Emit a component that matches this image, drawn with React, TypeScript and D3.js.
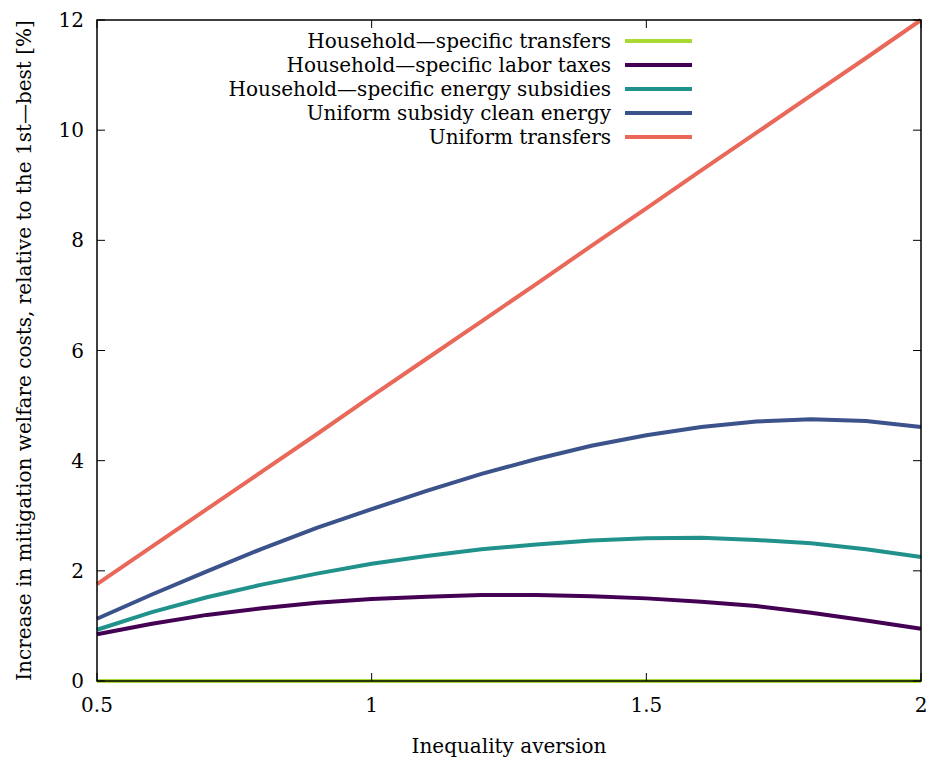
import * as d3 from 'd3';

const aversion = [0.5, 0.6, 0.7, 0.8, 0.9, 1.0, 1.1, 1.2, 1.3, 1.4, 1.5, 1.6, 1.7, 1.8, 1.9, 2.0];

const hhTransfers = [0, 0, 0, 0, 0, 0, 0, 0, 0, 0, 0, 0, 0, 0, 0, 0];
const hhLaborTaxes = [0.85, 1.04, 1.2, 1.32, 1.42, 1.49, 1.53, 1.56, 1.56, 1.54, 1.5, 1.44, 1.36, 1.24, 1.1, 0.95];
const hhEnergySubsidies = [0.93, 1.25, 1.52, 1.75, 1.95, 2.13, 2.27, 2.39, 2.48, 2.55, 2.59, 2.6, 2.56, 2.5, 2.39, 2.25];
const uniformSubsidyClean = [1.13, 1.57, 1.99, 2.4, 2.78, 3.12, 3.45, 3.76, 4.03, 4.27, 4.46, 4.61, 4.71, 4.75, 4.72, 4.61];
const uniformTransfers = [1.76, 2.44, 3.12, 3.8, 4.48, 5.17, 5.85, 6.53, 7.21, 7.9, 8.58, 9.27, 9.95, 10.63, 11.31, 12.0];

const seriesNames = [
  'Household\u2014specific transfers',
  'Household\u2014specific labor taxes',
  'Household\u2014specific energy subsidies',
  'Uniform subsidy clean energy',
  'Uniform transfers',
];
const seriesColors = ['#a8d932', '#440154', '#21918c', '#3b528b', '#e9685a'];

const xTicks = [0.5, 1, 1.5, 2];
const yTicks = [0, 2, 4, 6, 8, 10, 12];

const width = 930;
const height = 757;
const margin = { left: 97, right: 9, top: 20, bottom: 76 };
// only DejaVu Serif renders as a serif face here
const font = 'DejaVu Serif';
const fontSize = 20;

export default function App() {
  const x = d3.scaleLinear().domain([0.5, 2]).range([margin.left, width - margin.right]);
  const y = d3.scaleLinear().domain([0, 12]).range([height - margin.bottom, margin.top]);

  const allSeries = [hhTransfers, hhLaborTaxes, hhEnergySubsidies, uniformSubsidyClean, uniformTransfers];
  const line = d3
    .line<number>()
    .x((_, i) => x(aversion[i]))
    .y((d) => y(d));

  const x0 = x.range()[0];
  const x1 = x.range()[1];
  const y0 = y.range()[0];
  const y1 = y.range()[1];
  const tick = 8;

  return (
    <svg
      width={width}
      height={height}
      style={{ position: 'absolute', left: 0, top: 0, background: '#fff' }}
      fontFamily={font}
      fontSize={fontSize}
    >
      {allSeries.map((s, i) => (
        <path key={i} d={line(s) ?? ''} fill="none" stroke={seriesColors[i]} strokeWidth={4} />
      ))}

      <rect x={x0} y={y1} width={x1 - x0} height={y0 - y1} fill="none" stroke="#000" strokeWidth={1.5} />

      {xTicks.map((t) => (
        <g key={'x' + t}>
          <line x1={x(t)} x2={x(t)} y1={y0} y2={y0 - tick} stroke="#000" strokeWidth={1} />
          <line x1={x(t)} x2={x(t)} y1={y1} y2={y1 + tick} stroke="#000" strokeWidth={1} />
          <text x={x(t)} y={y0 + 31} textAnchor="middle">
            {t}
          </text>
        </g>
      ))}

      {yTicks.map((t) => (
        <g key={'y' + t}>
          <line x1={x0} x2={x0 + tick} y1={y(t)} y2={y(t)} stroke="#000" strokeWidth={1} />
          <line x1={x1} x2={x1 - tick} y1={y(t)} y2={y(t)} stroke="#000" strokeWidth={1} />
          <text x={x0 - 13} y={y(t) + 7} textAnchor="end">
            {t}
          </text>
        </g>
      ))}

      <text x={(x0 + x1) / 2} y={753} textAnchor="middle">
        Inequality aversion
      </text>
      <text transform={`translate(31, ${(y0 + y1) / 2}) rotate(-90)`} textAnchor="middle">
        Increase in mitigation welfare costs, relative to the 1st{'\u2014'}best [%]
      </text>

      {seriesNames.map((name, i) => {
        const ly = 41 + i * 24;
        return (
          <g key={name}>
            <text x={611} y={ly + 7} textAnchor="end">
              {name}
            </text>
            <line x1={625} x2={692} y1={ly} y2={ly} stroke={seriesColors[i]} strokeWidth={4} />
          </g>
        );
      })}
    </svg>
  );
}
